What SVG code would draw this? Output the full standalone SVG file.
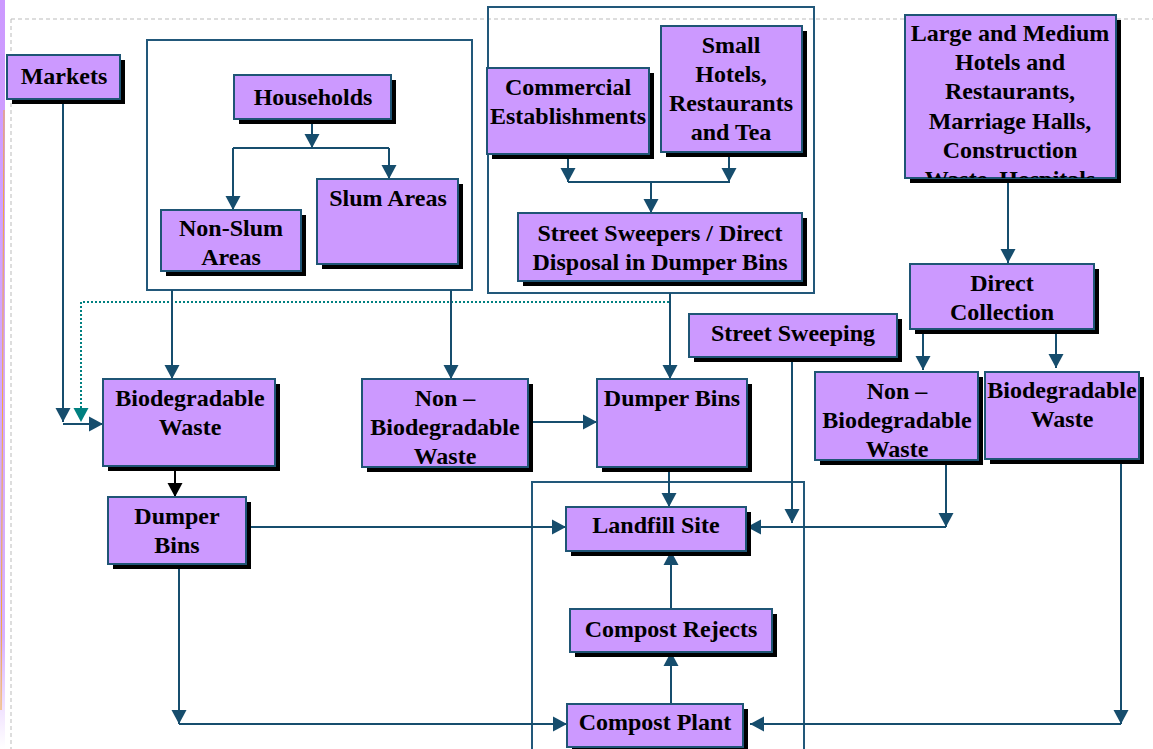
<svg xmlns="http://www.w3.org/2000/svg" width="1153" height="749" viewBox="0 0 1153 749">
<style>
.box{fill:#cc99ff;stroke:#1f5575;stroke-width:2}
.sh{fill:#000}
.grp{fill:none;stroke:#22587a;stroke-width:2}
.t{font-family:"Liberation Serif",serif;font-weight:bold;font-size:24px;text-anchor:middle;fill:#000}
.c{fill:none;stroke:#164d6d;stroke-width:2}
.ck{fill:none;stroke:#000;stroke-width:2}
.cd{fill:none;stroke:#008080;stroke-width:2;stroke-dasharray:2 2}
</style>
<defs>
<marker id="a" markerUnits="userSpaceOnUse" markerWidth="16" markerHeight="16" viewBox="0 0 16 16" refX="14" refY="8" orient="auto"><path d="M0,0.5 L14,8 L0,15.5 z" fill="#164d6d"/></marker>
<marker id="ak" markerUnits="userSpaceOnUse" markerWidth="16" markerHeight="16" viewBox="0 0 16 16" refX="14" refY="8" orient="auto"><path d="M0,0.5 L14,8 L0,15.5 z" fill="#000"/></marker>
<marker id="at" markerUnits="userSpaceOnUse" markerWidth="16" markerHeight="16" viewBox="0 0 16 16" refX="14" refY="8" orient="auto"><path d="M0,0.5 L14,8 L0,15.5 z" fill="#008080"/></marker>
<clipPath id="clipSmall"><rect x="661" y="26" width="141" height="126"/></clipPath>
<clipPath id="clipLarge"><rect x="905" y="15" width="211" height="163"/></clipPath>
<linearGradient id="edge" x1="0" y1="0" x2="0" y2="1"><stop offset="0" stop-color="#cc99ff"/><stop offset="0.85" stop-color="#d8b0ff"/><stop offset="1" stop-color="#ffffff"/></linearGradient>
</defs>

<!-- background / page decoration -->
<rect x="0" y="0" width="1153" height="749" fill="#fff"/>
<rect x="0" y="0" width="5" height="749" fill="url(#edge)"/>
<path d="M4,110 L1,710" stroke="#f2a93b" stroke-width="1" fill="none"/>
<path d="M11,19 H1153 M11,19 V749" stroke="#bbbbbb" stroke-width="1" stroke-dasharray="4 3" fill="none"/>

<!-- group frames -->
<g id="frames">
<rect class="grp" x="147" y="40" width="325" height="250"/>
<rect class="grp" x="488" y="7" width="326" height="286"/>
<rect class="grp" x="532" y="482" width="272" height="280"/>
</g>

<!-- connectors -->
<g id="connectors">
<path class="c" d="M63,99 V422" marker-end="url(#a)"/>
<path class="c" d="M63,424 H103" marker-end="url(#a)"/>
<path class="cd" d="M669,302 H81 V422" marker-end="url(#at)"/>
<path class="c" d="M312,119 V148" marker-end="url(#a)"/>
<path class="c" d="M233,148 H389"/>
<path class="c" d="M233,148 V210" marker-end="url(#a)"/>
<path class="c" d="M389,148 V179" marker-end="url(#a)"/>
<path class="c" d="M568,155 V182" marker-end="url(#a)"/>
<path class="c" d="M729,153 V182" marker-end="url(#a)"/>
<path class="c" d="M568,182 H730"/>
<path class="c" d="M651,182 V213" marker-end="url(#a)"/>
<path class="c" d="M172,290 V379" marker-end="url(#a)"/>
<path class="c" d="M451,290 V379" marker-end="url(#a)"/>
<path class="c" d="M670,293 V379" marker-end="url(#a)"/>
<path class="c" d="M528,422 H597" marker-end="url(#a)"/>
<path class="c" d="M1008,178 V263" marker-end="url(#a)"/>
<path class="c" d="M923,329 V370" marker-end="url(#a)"/>
<path class="c" d="M1056,329 V368" marker-end="url(#a)"/>
<path class="ck" d="M175,466 V497" marker-end="url(#ak)"/>
<path class="c" d="M247,527 H566" marker-end="url(#a)"/>
<path class="c" d="M179,564 V724" marker-end="url(#a)"/>
<path class="c" d="M179,724 H567" marker-end="url(#a)"/>
<path class="c" d="M669,467 V507" marker-end="url(#a)"/>
<path class="c" d="M792,357 V523" marker-end="url(#a)"/>
<path class="c" d="M946,460 V527" marker-end="url(#a)"/>
<path class="c" d="M946,527 H747" marker-end="url(#a)"/>
<path class="c" d="M1121,459 V724" marker-end="url(#a)"/>
<path class="c" d="M1121,724 H750" marker-end="url(#a)"/>
<path class="c" d="M671,703 V652" marker-end="url(#a)"/>
<path class="c" d="M671,609 V551" marker-end="url(#a)"/>
</g>

<!-- nodes -->
<g id="markets"><rect class="sh" x="12" y="60" width="113" height="44"/><rect class="box" x="7" y="55" width="113" height="44"/><text class="t" x="64" y="84">Markets</text></g>
<g id="households"><rect class="sh" x="239" y="80" width="157" height="44"/><rect class="box" x="234" y="75" width="157" height="44"/><text class="t" x="313" y="105">Households</text></g>
<g id="nonslum"><rect class="sh" x="166" y="215" width="140" height="61"/><rect class="box" x="161" y="210" width="140" height="61"/><text class="t" x="231" y="236">Non-Slum</text><text class="t" x="231" y="265">Areas</text></g>
<g id="slum"><rect class="sh" x="322" y="184" width="141" height="85"/><rect class="box" x="317" y="179" width="141" height="85"/><text class="t" x="388" y="206">Slum Areas</text></g>
<g id="commercial"><rect class="sh" x="492" y="73" width="162" height="86"/><rect class="box" x="487" y="68" width="162" height="86"/><text class="t" x="568" y="95">Commercial</text><text class="t" x="568" y="124">Establishments</text></g>
<g id="smallhotels"><rect class="sh" x="666" y="31" width="141" height="126"/><rect class="box" x="661" y="26" width="141" height="126"/><g clip-path="url(#clipSmall)"><text class="t" x="731" y="53">Small</text><text class="t" x="731" y="82">Hotels,</text><text class="t" x="731" y="111">Restaurants</text><text class="t" x="731" y="140">and Tea</text><text class="t" x="731" y="169">Stalls</text></g></g>
<g id="sweepers"><rect class="sh" x="523" y="218" width="284" height="68"/><rect class="box" x="518" y="213" width="284" height="68"/><text class="t" x="660" y="241">Street Sweepers / Direct</text><text class="t" x="660" y="270">Disposal in Dumper Bins</text></g>
<g id="large"><rect class="sh" x="910" y="20" width="211" height="163"/><rect class="box" x="905" y="15" width="211" height="163"/><g clip-path="url(#clipLarge)"><text class="t" x="1010" y="41">Large and Medium</text><text class="t" x="1010" y="70">Hotels and</text><text class="t" x="1010" y="99">Restaurants,</text><text class="t" x="1010" y="129">Marriage Halls,</text><text class="t" x="1010" y="158">Construction</text><text class="t" x="1010" y="187">Waste, Hospitals</text></g></g>
<g id="direct"><rect class="sh" x="915" y="269" width="184" height="65"/><rect class="box" x="910" y="264" width="184" height="65"/><text class="t" x="1002" y="291">Direct</text><text class="t" x="1002" y="320">Collection</text></g>
<g id="streetsweeping"><rect class="sh" x="694" y="319" width="208" height="43"/><rect class="box" x="689" y="314" width="208" height="43"/><text class="t" x="793" y="341">Street Sweeping</text></g>
<g id="nonbio-right"><rect class="sh" x="820" y="377" width="163" height="88"/><rect class="box" x="815" y="372" width="163" height="88"/><text class="t" x="897" y="399">Non –</text><text class="t" x="897" y="428">Biodegradable</text><text class="t" x="897" y="457">Waste</text></g>
<g id="bio-right"><rect class="sh" x="990" y="377" width="154" height="87"/><rect class="box" x="985" y="372" width="154" height="87"/><text class="t" x="1062" y="398">Biodegradable</text><text class="t" x="1062" y="427">Waste</text></g>
<g id="bio-left"><rect class="sh" x="108" y="384" width="172" height="87"/><rect class="box" x="103" y="379" width="172" height="87"/><text class="t" x="190" y="406">Biodegradable</text><text class="t" x="190" y="435">Waste</text></g>
<g id="nonbio-mid"><rect class="sh" x="367" y="384" width="166" height="88"/><rect class="box" x="362" y="379" width="166" height="88"/><text class="t" x="445" y="406">Non –</text><text class="t" x="445" y="435">Biodegradable</text><text class="t" x="445" y="464">Waste</text></g>
<g id="dumper-mid"><rect class="sh" x="602" y="384" width="150" height="88"/><rect class="box" x="597" y="379" width="150" height="88"/><text class="t" x="672" y="406">Dumper Bins</text></g>
<g id="dumper-left"><rect class="sh" x="113" y="502" width="138" height="67"/><rect class="box" x="108" y="497" width="138" height="67"/><text class="t" x="177" y="524">Dumper</text><text class="t" x="177" y="553">Bins</text></g>
<g id="landfill"><rect class="sh" x="571" y="512" width="180" height="44"/><rect class="box" x="566" y="507" width="180" height="44"/><text class="t" x="656" y="533">Landfill Site</text></g>
<g id="rejects"><rect class="sh" x="575" y="614" width="202" height="43"/><rect class="box" x="570" y="609" width="202" height="43"/><text class="t" x="671" y="637">Compost Rejects</text></g>
<g id="compost"><rect class="sh" x="572" y="709" width="176" height="43"/><rect class="box" x="567" y="704" width="176" height="43"/><text class="t" x="655" y="730">Compost Plant</text></g>
</svg>
